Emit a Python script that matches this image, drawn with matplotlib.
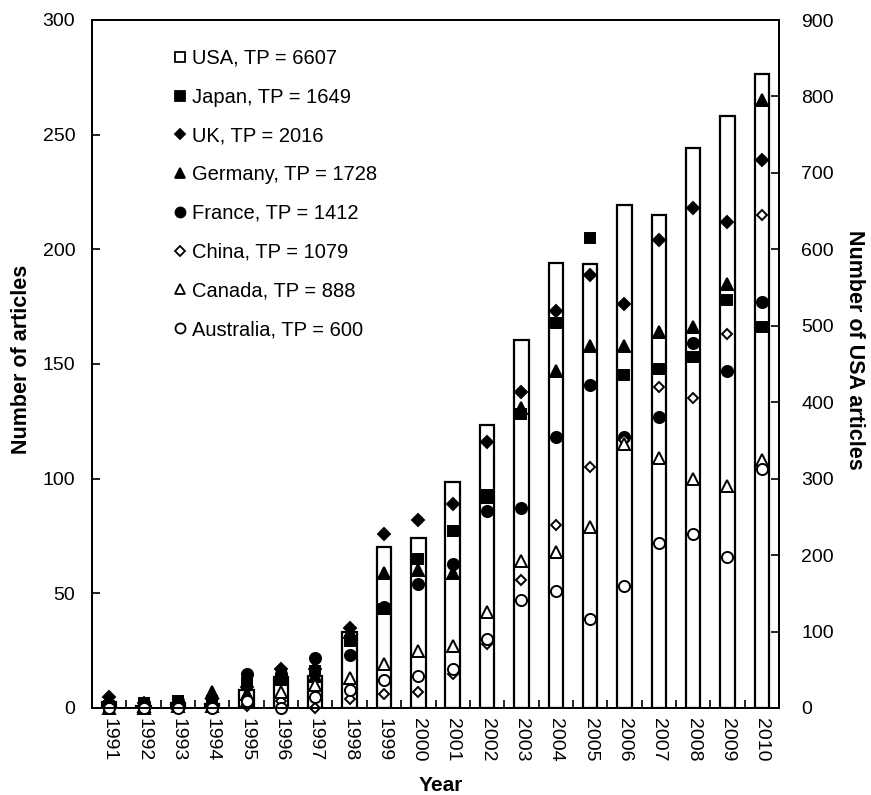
"""
Publications per year by country: USA as bars on the right axis,
other countries as markers on the left axis
"""

import numpy as np
from matplotlib import pyplot as plt
from matplotlib.lines import Line2D

plt.rcParams['font.family'] = ['Liberation Sans', 'DejaVu Sans']

# Data
years = ["1991", "1992", "1993", "1994", "1995", "1996", "1997", "1998", "1999", "2000",
         "2001", "2002", "2003", "2004", "2005", "2006", "2007", "2008", "2009", "2010"]
usa = [8, 3, 6, 5, 23, 40, 42, 99, 210, 222, 295, 370, 482, 582, 581, 658, 645, 732, 775, 830]
japan = [1, 2, 3, 3, 11, 12, 16, 29, 43, 65, 77, 93, 128, 168, 205, 145, 148, 153, 178, 166]
uk = [5, 2, 2, 4, 9, 17, 17, 35, 76, 82, 89, 116, 138, 173, 189, 176, 204, 218, 212, 239]
germany = [3, 1, 2, 7, 6, 13, 14, 33, 59, 60, 59, 92, 131, 147, 158, 158, 164, 166, 185, 265]
france = [1, 2, 3, 1, 15, 15, 22, 23, 44, 54, 63, 86, 87, 118, 141, 118, 127, 159, 147, 177]
china = [0, 0, 0, 0, 1, 3, 0, 4, 6, 7, 15, 28, 56, 80, 105, 117, 140, 135, 163, 215]
canada = [0, 0, 1, 1, 3, 7, 10, 13, 19, 25, 27, 42, 64, 68, 79, 115, 109, 100, 97, 108]
australia = [0, 0, 0, 0, 3, 0, 5, 8, 12, 14, 17, 30, 47, 51, 39, 53, 72, 76, 66, 104]

labels = ["USA, TP = 6607", "Japan, TP = 1649", "UK, TP = 2016", "Germany, TP = 1728",
          "France, TP = 1412", "China, TP = 1079", "Canada, TP = 888", "Australia, TP = 600"]

x = np.arange(len(years))

fig = plt.figure(figsize=(8.71, 7.95), dpi=100)
ax = fig.add_axes([92 / 871, 1 - 708 / 795, 687 / 871, 688 / 795])
ax2 = ax.twinx()

# markers above the bars
ax.set_zorder(ax2.get_zorder() + 1)
ax.patch.set_visible(False)

# USA bars on the right axis
ax2.bar(x, usa, width=0.42, color="white", edgecolor="black", linewidth=1.6)

# other countries on the left axis
series = [
    (japan, "s", "black", 7.5),
    (uk, "D", "black", 6),
    (germany, "^", "black", 8),
    (france, "o", "black", 8),
    (china, "D", "white", 5.5),
    (canada, "^", "white", 8),
    (australia, "o", "white", 8),
]
handles = [Line2D([], [], marker="s", ls="none", mfc="white", mec="black", mew=1.3, ms=7)]
for vals, m, fc, ms in series:
    ax.plot(x, vals, m, ls="none", mfc=fc, mec="black", mew=1.4, ms=ms, clip_on=False)
    handles.append(Line2D([], [], marker=m, ls="none", mfc=fc, mec="black", mew=1.3, ms=ms * 0.9))

ax.set_xlim(-0.5, len(years) - 0.5)
ax.set_ylim(0, 300)
ax.set_yticks(np.arange(0, 301, 50))
ax2.set_ylim(0, 900)
ax2.set_yticks(np.arange(0, 901, 100))

ax.set_xticks(x)
ax.set_xticklabels(years, rotation=270, fontsize=14)
ax.set_xticks(np.arange(-0.5, len(years), 1), minor=True)
ax.tick_params(axis="x", which="major", length=0, pad=7)
ax.tick_params(axis="x", which="minor", length=6, direction="in", width=1.2)
ax.tick_params(axis="y", direction="in", length=6, width=1.2, labelsize=14, pad=12)
ax2.tick_params(axis="y", direction="in", length=6, width=1.2, labelsize=14, pad=16)

for a in (ax, ax2):
    for s in a.spines.values():
        s.set_linewidth(1.4)

# axis titles
narrow = ["Liberation Sans Narrow", "Liberation Sans", "DejaVu Sans"]
ax.set_ylabel("Number of articles", fontsize=15.5, fontweight="bold", family=narrow, va="center")
ax.yaxis.set_label_coords(-0.103, 0.507)
ax2.set_ylabel("Number of USA articles", fontsize=15.5, fontweight="bold", family=narrow,
               rotation=270, va="center")
ax2.yaxis.set_label_coords(1.11, 0.52)
ax.set_xlabel("Year", fontsize=15, fontweight="bold", family=narrow, va="center")
ax.xaxis.set_label_coords(0.507, -0.112)

ax.legend(handles, labels, loc="upper left", bbox_to_anchor=(0.1165, 0.958), frameon=False,
          fontsize=14.5, borderpad=0, borderaxespad=0, handlelength=0.8, handletextpad=0.2,
          labelspacing=0.98)

plt.savefig("out.png", dpi=100, facecolor="white")
